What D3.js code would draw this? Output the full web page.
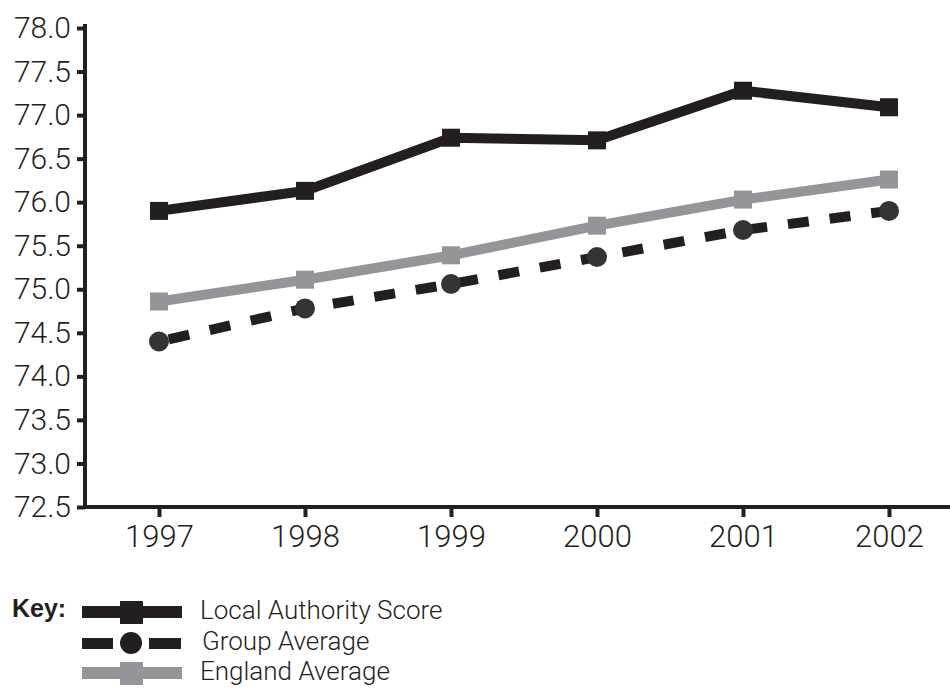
<!DOCTYPE html>
<html>
<head>
<meta charset="utf-8">
<script src="https://d3js.org/d3.v7.min.js"></script>
<style>
  body { margin: 0; background: #fff; }
  svg { display: block; }
  text { font-family: Roboto, "Liberation Sans", sans-serif; font-weight: 300; fill: #231f20; }
</style>
</head>
<body>
<svg width="950" height="689"></svg>
<script>
// Data
var years = ["1997", "1998", "1999", "2000", "2001", "2002"];
var localAuthority = [75.9, 76.13, 76.74, 76.71, 77.28, 77.09];
var groupAverage = [74.4, 74.78, 75.06, 75.37, 75.68, 75.9];
var englandAverage = [74.86, 75.11, 75.39, 75.73, 76.03, 76.26];
var yTicks = [72.5, 73.0, 73.5, 74.0, 74.5, 75.0, 75.5, 76.0, 76.5, 77.0, 77.5, 78.0];
var legendNames = ["Local Authority Score", "Group Average", "England Average"];

var black = "#231f20";
var grey = "#939598";
var dot = "#333535";

var svg = d3.select("svg");

var x = d3.scalePoint().domain(years).range([159, 889]);
var y = d3.scaleLinear().domain([72.5, 78.0]).range([507, 28]);

// y axis
var yAxis = svg.append("g")
    .attr("transform", "translate(85,0)")
    .call(d3.axisLeft(y).tickValues(yTicks).tickFormat(d3.format(".1f")).tickSizeOuter(0).tickSize(8).tickPadding(6));
yAxis.select(".domain").remove();
yAxis.selectAll(".tick line").attr("stroke", black).attr("stroke-width", 4);
yAxis.selectAll(".tick text").attr("font-size", 30).style("font-family", "Roboto, sans-serif").attr("fill", "#231f20");

// x axis
var xAxis = svg.append("g")
    .attr("transform", "translate(0,507)")
    .call(d3.axisBottom(x).tickSize(10).tickSizeOuter(0).tickPadding(8));
xAxis.select(".domain").remove();
xAxis.selectAll(".tick line").attr("stroke", black).attr("stroke-width", 4);
xAxis.selectAll(".tick text").attr("font-size", 31).style("font-family", "Roboto, sans-serif").attr("fill", "#231f20");

// axis lines
svg.append("path")
    .attr("d", "M85,24V507H950")
    .attr("fill", "none")
    .attr("stroke", black)
    .attr("stroke-width", 4);

var line = d3.line().x(function (d, i) { return x(years[i]); }).y(function (d) { return y(d); });

// England average
svg.append("path").datum(englandAverage)
    .attr("d", line).attr("fill", "none").attr("stroke", grey).attr("stroke-width", 10);
svg.selectAll(".eng").data(englandAverage).enter().append("rect")
    .attr("x", function (d, i) { return x(years[i]) - 9; })
    .attr("y", function (d) { return y(d) - 9; })
    .attr("width", 18).attr("height", 18).attr("fill", grey);

// Group average
svg.append("path").datum(groupAverage)
    .attr("d", line).attr("fill", "none").attr("stroke", black).attr("stroke-width", 10)
    .attr("stroke-dasharray", "21,21").attr("stroke-dashoffset", -10);
svg.selectAll(".grp").data(groupAverage).enter().append("circle")
    .attr("cx", function (d, i) { return x(years[i]); })
    .attr("cy", function (d) { return y(d); })
    .attr("r", 10).attr("fill", dot);

// Local authority
svg.append("path").datum(localAuthority)
    .attr("d", line).attr("fill", "none").attr("stroke", black).attr("stroke-width", 10);
svg.selectAll(".la").data(localAuthority).enter().append("rect")
    .attr("x", function (d, i) { return x(years[i]) - 9; })
    .attr("y", function (d) { return y(d) - 9; })
    .attr("width", 18).attr("height", 18).attr("fill", black);

// Legend
svg.append("text").attr("x", 12).attr("y", 617)
    .style("font-size", "25px").style("font-weight", 700).style("font-family", "'Liberation Sans', Arial, sans-serif")
    .text("Key:");

var legY = [612, 643, 673];
var leg = svg.selectAll(".leg").data(legendNames).enter().append("g")
    .attr("transform", function (d, i) { return "translate(0," + legY[i] + ")"; });

leg.each(function (d, i) {
    var g = d3.select(this);
    if (i === 1) {
        g.append("rect").attr("x", 82).attr("y", -5).attr("width", 31).attr("height", 11).attr("fill", black);
        g.append("rect").attr("x", 149).attr("y", -5).attr("width", 32).attr("height", 11).attr("fill", black);
        g.append("circle").attr("cx", 131).attr("cy", 0).attr("r", 11).attr("fill", black);
    } else {
        var c = i === 0 ? black : grey;
        g.append("rect").attr("x", 82).attr("y", -6).attr("width", 100).attr("height", 12).attr("fill", c);
        g.append("rect").attr("x", 120).attr("y", -11).attr("width", 23).attr("height", 23).attr("fill", c);
    }
    g.append("text").attr("x", i === 1 ? 202 : 200).attr("y", 7).attr("font-size", 26).text(d);
});
</script>
</body>
</html>
